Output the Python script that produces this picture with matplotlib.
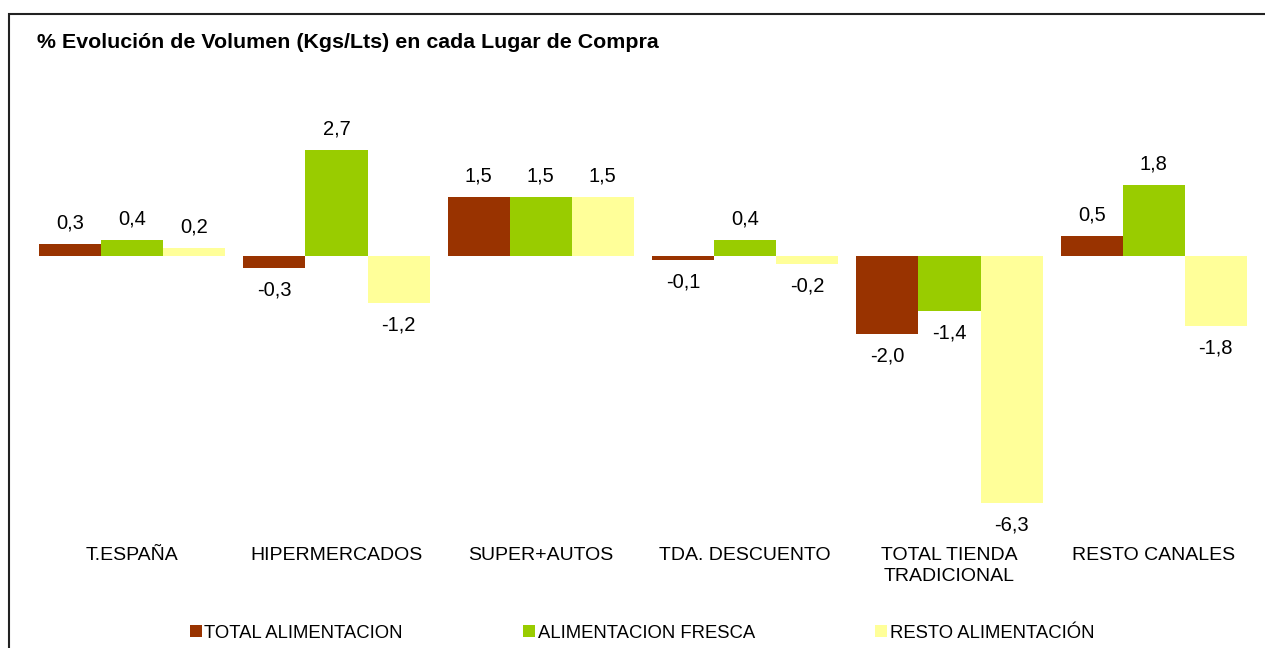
import numpy as np
import matplotlib
matplotlib.use("Agg")
import matplotlib.pyplot as plt
from matplotlib.patches import Rectangle, Patch

plt.rcParams['font.family'] = ['Liberation Sans', 'DejaVu Sans']

# datos
categorias = ["T.ESPAÑA", "HIPERMERCADOS", "SUPER+AUTOS", "TDA. DESCUENTO",
              "TOTAL TIENDA\nTRADICIONAL", "RESTO CANALES"]
series = ["TOTAL ALIMENTACION", "ALIMENTACION FRESCA", "RESTO ALIMENTACIÓN"]
total_alim = [0.3, -0.3, 1.5, -0.1, -2.0, 0.5]
alim_fresca = [0.4, 2.7, 1.5, 0.4, -1.4, 1.8]
resto_alim = [0.2, -1.2, 1.5, -0.2, -6.3, -1.8]
colores = ["#993300", "#99CC00", "#FFFF99"]

W, H = 1265, 648
fig = plt.figure(figsize=(W / 100, H / 100), dpi=100)
ax = fig.add_axes([30 / W, 1 - 530 / H, 1226 / W, 470 / H])

x = np.arange(len(categorias))
ancho = 62 / 204.3
valores = [total_alim, alim_fresca, resto_alim]
for i, (vals, col) in enumerate(zip(valores, colores)):
    pos = x + (i - 1) * ancho
    ax.bar(pos, vals, width=ancho, color=col, edgecolor='none')
    for p, v in zip(pos, vals):
        off = 8.5 if v >= 0 else -9
        ax.annotate(("%.1f" % v).replace(".", ","), (p, v), xytext=(0, off),
                    textcoords="offset points", ha="center",
                    va="bottom" if v >= 0 else "top", fontsize=14.5)

ax.set_xlim(-0.5, len(categorias) - 0.5)
ax.set_ylim(-7, 5)
ax.set_xticks(x)
ax.set_xticklabels(categorias, fontsize=14, linespacing=1.35)
ax.tick_params(axis='x', length=0, pad=12)
ax.set_yticks([])
for s in ax.spines.values():
    s.set_visible(False)

fig.text(37 / W, 1 - 43 / H, "% Evolución de Volumen (Kgs/Lts) en cada Lugar de Compra",
         fontsize=15.4, fontweight='bold', va='center', ha='left')

# marco del grafico
fig.patches.append(Rectangle((9 / W, -0.1), 1.2, 1.1 - 14 / H, transform=fig.transFigure,
                             fill=False, edgecolor='#222222', linewidth=1.5))

handles = [Patch(facecolor=c, edgecolor='none') for c in colores]
fig.legend(handles, series, loc='center', bbox_to_anchor=(642 / W, 1 - 633 / H),
           ncol=3, frameon=False, fontsize=13.3, handlelength=0.65, handleheight=0.65,
           handletextpad=0.15, columnspacing=6.5)

fig.savefig("out.png", dpi=100)
